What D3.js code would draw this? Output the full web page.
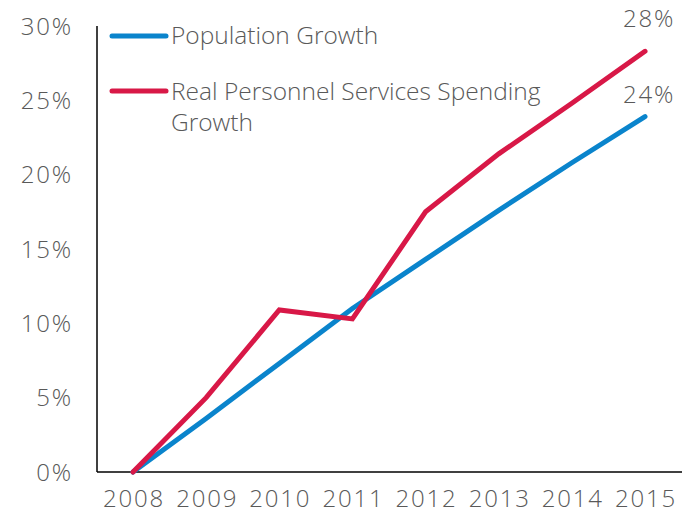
<!DOCTYPE html>
<html lang="en">
<head>
  <meta charset="UTF-8" />
  <title>Population vs Personnel Spending Growth</title>
  <style>
    body { margin: 0; background: #fff; }
    .chart text { font-family: "Open Sans", sans-serif; font-weight: 300; fill: #595959; }
    .num { letter-spacing: 1.8px; }
  </style>
</head>
<body>
  <div class="chart"></div>

  <script src="https://d3js.org/d3.v7.min.js"></script>
  <script>
    const years = [2008, 2009, 2010, 2011, 2012, 2013, 2014, 2015];
    const population = [0, 3.6, 7.3, 11.0, 14.3, 17.6, 20.8, 23.9];
    const spending = [0, 5.0, 10.9, 10.3, 17.5, 21.4, 24.8, 28.3];
    const yTicks = [0, 5, 10, 15, 20, 25, 30];
    const endLabels = ['24%', '28%'];

    const width = 686;
    const height = 514;
    const margin = { top: 26, right: 4, bottom: 42, left: 97 };

    const svg = d3.select('.chart')
      .append('svg')
      .attr('width', width)
      .attr('height', height);

    const x = d3.scalePoint()
      .domain(years)
      .range([133, 645]);

    const y = d3.scaleLinear()
      .domain([0, 30])
      .range([height - margin.bottom, margin.top]);

    // 축
    svg.append('line')
      .attr('x1', margin.left).attr('x2', margin.left)
      .attr('y1', margin.top).attr('y2', y(0))
      .attr('stroke', '#000').attr('stroke-width', 1.5);
    svg.append('line')
      .attr('x1', margin.left).attr('x2', width - margin.right)
      .attr('y1', y(0)).attr('y2', y(0))
      .attr('stroke', '#000').attr('stroke-width', 1.5);

    svg.selectAll('.ytick')
      .data(yTicks)
      .enter()
      .append('text')
      .attr('class', 'ytick num')
      .attr('x', 73)
      .attr('y', d => y(d))
      .attr('dy', '0.36em')
      .attr('text-anchor', 'end')
      .attr('font-size', 24)
      .text(d => d + '%');

    svg.selectAll('.xtick')
      .data(years)
      .enter()
      .append('text')
      .attr('class', 'xtick num')
      .attr('x', d => x(d) + 1)
      .attr('y', 507)
      .attr('text-anchor', 'middle')
      .attr('font-size', 24)
      .text(d => d);

    const line = d3.line()
      .x((d, i) => x(years[i]))
      .y(d => y(d));

    const series = [
      { values: population, color: '#0a84cc', offset: 14 },
      { values: spending, color: '#d81847', offset: 24 }
    ];

    svg.selectAll('.series')
      .data(series)
      .enter()
      .append('path')
      .attr('class', 'series')
      .attr('d', d => line(d.values))
      .attr('fill', 'none')
      .attr('stroke', d => d.color)
      .attr('stroke-width', 5)
      .attr('stroke-linecap', 'round')
      .attr('stroke-linejoin', 'miter');

    // 끝 라벨
    svg.selectAll('.endlabel')
      .data(series)
      .enter()
      .append('text')
      .attr('class', 'endlabel num')
      .attr('x', x(2015) + 4)
      .attr('y', d => y(d.values[d.values.length - 1]) - d.offset)
      .attr('text-anchor', 'middle')
      .attr('font-size', 24)
      .text((d, i) => endLabels[i]);

    // 범례
    const legend = svg.append('g');
    legend.append('line')
      .attr('x1', 112).attr('x2', 166).attr('y1', 36).attr('y2', 36)
      .attr('stroke', '#0a84cc').attr('stroke-width', 5).attr('stroke-linecap', 'round');
    legend.append('text')
      .attr('x', 171).attr('y', 44).attr('font-size', 24.5)
      .text('Population Growth');
    legend.append('line')
      .attr('x1', 112).attr('x2', 166).attr('y1', 91).attr('y2', 91)
      .attr('stroke', '#d81847').attr('stroke-width', 5).attr('stroke-linecap', 'round');
    legend.append('text')
      .attr('x', 171).attr('y', 100).attr('font-size', 24.5)
      .text('Real Personnel Services Spending');
    legend.append('text')
      .attr('x', 171).attr('y', 131).attr('font-size', 24.5)
      .text('Growth');
  </script>
</body>
</html>
